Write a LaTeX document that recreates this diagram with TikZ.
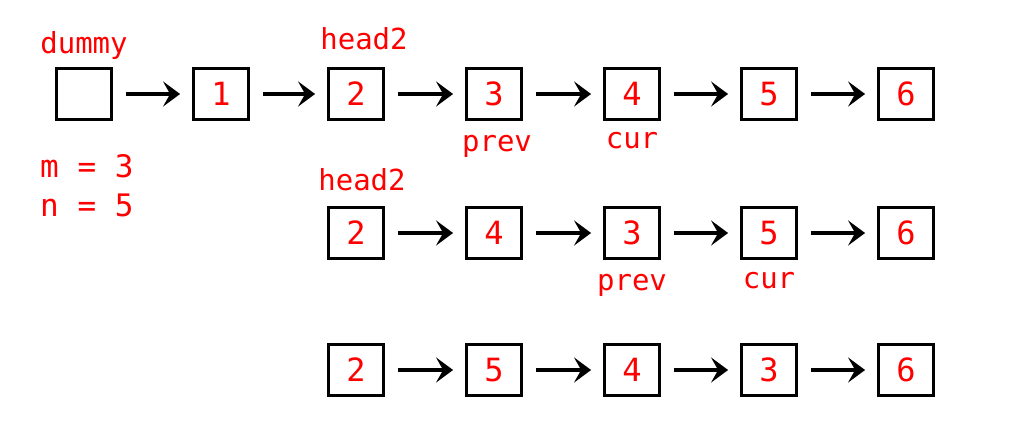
\documentclass[tikz,border=0pt]{standalone}
\usepackage{fontspec}
\newfontfamily\monof{DejaVu Sans Mono}
\usetikzlibrary{arrows.meta}
\definecolor{lblred}{RGB}{255,0,0}
\tikzset{
  cell/.style={draw=black, line width=2.8pt, minimum width=55pt, minimum height=51pt, inner sep=0pt,
    text=lblred, font=\monof\fontsize{32}{32}\selectfont},
  lab/.style={text=lblred, inner sep=0pt, font=\monof\fontsize{29}{29}\selectfont},
  link/.style={line width=4.5pt, shorten <=13pt, shorten >=12pt,
    -{Stealth[length=17pt, width=25pt, inset=7pt]}},
}
\begin{document}
\begin{tikzpicture}[x=1pt, y=-1pt]
\useasboundingbox (0,0) rectangle (1028,441);
% row 1
\node[cell] (d)  at (84,94) {};
\node[cell] (a1) at (221,94) {1};
\node[cell] (a2) at (356,94) {2};
\node[cell] (a3) at (494,94) {3};
\node[cell] (a4) at (632,94) {4};
\node[cell] (a5) at (769,94) {5};
\node[cell] (a6) at (906,94) {6};
\foreach \p/\q in {d/a1,a1/a2,a2/a3,a3/a4,a4/a5,a5/a6} \draw[link] (\p) -- (\q);
\node[lab, anchor=base] (ld) at (84,54) {dummy};
\node[lab, anchor=base] (lh1) at (364,50) {head2};
\node[lab, anchor=base] (lp1) at (497,152) {prev};
\node[lab, anchor=base] (lc1) at (632,149) {cur};
\node[lab, anchor=base west, align=left] (mm) at (40,178) {\fontsize{31}{31}\selectfont m = 3};
\node[lab, anchor=base west, align=left] (nn) at (40,216) {\fontsize{31}{31}\selectfont n = 5};
% row 2
\node[cell] (b2) at (356,233) {2};
\node[cell] (b4) at (494,233) {4};
\node[cell] (b3) at (632,233) {3};
\node[cell] (b5) at (769,233) {5};
\node[cell] (b6) at (906,233) {6};
\foreach \p/\q in {b2/b4,b4/b3,b3/b5,b5/b6} \draw[link] (\p) -- (\q);
\node[lab, anchor=base] (lh2) at (362,190) {head2};
\node[lab, anchor=base] (lp2) at (632,290) {prev};
\node[lab, anchor=base] (lc2) at (769,288) {cur};
% row 3
\node[cell] (c2) at (356,370) {2};
\node[cell] (c5) at (494,370) {5};
\node[cell] (c4) at (632,370) {4};
\node[cell] (c3) at (769,370) {3};
\node[cell] (c6) at (906,370) {6};
\foreach \p/\q in {c2/c5,c5/c4,c4/c3,c3/c6} \draw[link] (\p) -- (\q);
\end{tikzpicture}
\end{document}
